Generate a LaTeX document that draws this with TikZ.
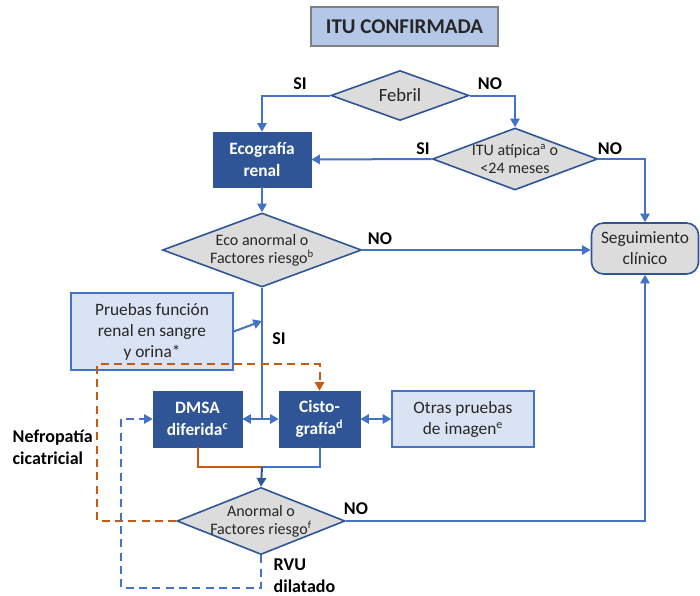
\documentclass[tikz,border=0pt]{standalone}
\usepackage{fontspec}
\setmainfont{Carlito}
\usetikzlibrary{shapes.geometric,arrows.meta}
\definecolor{lineblue}{HTML}{4472C4}
\definecolor{darkblue}{HTML}{2F5597}
\definecolor{lightblue}{HTML}{DAE3F3}
\definecolor{titleblue}{HTML}{B4C7E7}
\definecolor{greyfill}{HTML}{DCDCDC}
\definecolor{orangeline}{HTML}{C55A11}
\definecolor{textgrey}{HTML}{262626}

\begin{document}
\begin{tikzpicture}[x=0.75pt, y=-0.75pt,
  line/.style={draw=lineblue, line width=1.5pt},
  arr/.style={line, -{Triangle[width=7pt,length=6.5pt]}},
  twoway/.style={line, {Triangle[width=7pt,length=6.5pt]}-{Triangle[width=7pt,length=6.5pt]}},
  darkarr/.style={draw=darkblue, line width=1.5pt, -{Triangle[width=7pt,length=6.5pt]}},
  orangesolid/.style={draw=orangeline, line width=1.5pt},
  orangedash/.style={draw=orangeline, line width=1.5pt, dash pattern=on 6pt off 4pt, -{Triangle[width=7pt,length=6.5pt]}},
  bluedash/.style={line, dash pattern=on 6pt off 4pt, -{Triangle[width=7pt,length=6.5pt]}},
  titlebox/.style={draw=gray, fill=titleblue, line width=1.2pt, font=\fontsize{15.75}{18}\selectfont\bfseries, text=textgrey},
  darkbox/.style={draw=darkblue, fill=darkblue, text=white, align=center, font=\fontsize{13}{16}\selectfont\bfseries},
  lightbox/.style={draw=lineblue, fill=lightblue, line width=1pt, text=textgrey, align=center, font=\fontsize{13}{15.75}\selectfont},
  roundbox/.style={draw=darkblue, fill=greyfill, line width=1.2pt, rounded corners=9pt, text=textgrey, align=center, font=\fontsize{13}{15.75}\selectfont},
  choice/.style={diamond, draw=darkblue, fill=greyfill, line width=1.2pt, inner sep=0pt, inner xsep=-5pt, text=textgrey, align=center, font=\fontsize{12}{13.5}\selectfont},
  answer/.style={text=black, font=\fontsize{13.5}{16.5}\selectfont\bfseries, align=left}]
\useasboundingbox (0,0) rectangle (700,596);

% boxes
\node[titlebox, minimum width=140.25pt, minimum height=29.25pt] (confirm) at (404.5,26.5) {ITU CONFIRMADA};
\node[choice, minimum width=103.5pt, minimum height=37.5pt, shape aspect=2.76, font=\fontsize{14}{16}\selectfont] (febril) at (400,95.5) {Febril};
\node[darkbox, minimum width=73.5pt, minimum height=41.25pt] (ecog) at (262,159.5) {Ecografía\\renal};
\node[choice, minimum width=123.75pt, minimum height=46.5pt, shape aspect=2.66] (atipica) at (515,159) {ITU atípica\textsuperscript{a} o\\{<}24 meses};
\node[choice, minimum width=149.25pt, minimum height=55.5pt, shape aspect=2.69] (ecoan) at (262,250) {Eco anormal o\\Factores riesgo\textsuperscript{b}};
\node[roundbox, minimum width=80.25pt, minimum height=38.25pt] (segui) at (645,248.5) {Seguimiento\\clínico};
\node[lightbox, minimum width=121.5pt, minimum height=57.75pt] (pruebas) at (152,331.5) {Pruebas función\\renal en sangre\\y orina*};
\node[darkbox, minimum width=66.75pt, minimum height=42pt] (dmsa) at (197.5,419) {DMSA\\diferida\textsuperscript{c}};
\node[darkbox, minimum width=60.75pt, minimum height=42pt] (cisto) at (319.5,419) {Cisto-\\grafía\textsuperscript{d}};
\node[lightbox, minimum width=106.5pt, minimum height=42pt] (otras) at (463,419) {Otras pruebas\\de imagen\textsuperscript{e}};
\node[choice, minimum width=126pt, minimum height=50.25pt, shape aspect=2.5] (anorm) at (261,521) {Anormal o\\Factores riesgo\textsuperscript{f}};

% free corners
\coordinate (split) at (262,419);
\coordinate (join) at (262,467);
\coordinate (onspine) at (262,321);
\coordinate (orangecorner) at (97,364);
\coordinate (bluecorner) at (121,588);

% connectors
\draw[arr] (febril.west) -| (ecog.north); % febril yes
\draw[arr] (febril.east) -| (atipica.north); % febril no
\draw[arr] (atipica.west) -- (ecog.east); % atypical yes
\draw[arr] (atipica.east) -| (segui.north); % atypical no
\draw[arr] (ecog.south) -- (ecoan.north);
\draw[arr] (ecoan.east) -- (ecoan.east -| segui.west); % eco no
\draw[line] (ecoan.south) -- (split); % eco yes
\draw[arr] (pruebas.east) -- (onspine);
\draw[arr] (split) -- (dmsa.east);
\draw[arr] (split) -- (cisto.west);
\draw[twoway] (cisto.east) -- (otras.west);
\draw[orangesolid] (dmsa.south) |- (join);
\draw[line] (cisto.south) |- (join);
\draw[darkarr] (join) -- (anorm.north);
\draw[arr] (anorm.east) -| (segui.south); % second no
\draw[orangedash] (anorm.west) -| (orangecorner) -| (cisto.north); % scarring
\draw[bluedash] (anorm.south) |- (bluecorner) |- (dmsa.west); % dilated reflux

% labels
\node[answer] (si1) at (300,84) {SI};
\node[answer] (no1) at (490,84) {NO};
\node[answer] (si2) at (423,149) {SI};
\node[answer] (no2) at (610,149) {NO};
\node[answer] (no3) at (380,239) {NO};
\node[answer] (si3) at (279,339) {SI};
\node[answer] (no4) at (356,509) {NO};
\node[answer, anchor=west] (nefro) at (8,447) {Nefropatía\\cicatricial};
\node[answer, anchor=west] (rvu) at (269,576) {RVU\\dilatado};

\end{tikzpicture}
\end{document}
